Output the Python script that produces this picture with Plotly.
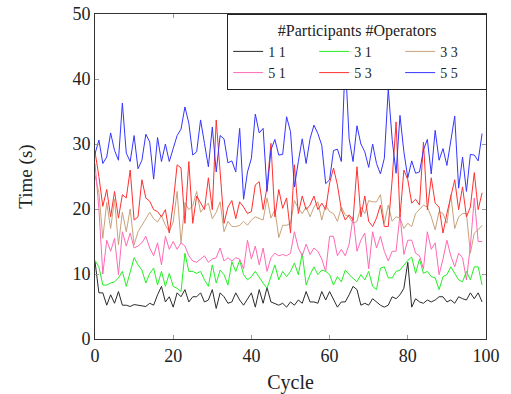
import plotly.graph_objects as go

# Cycle index (x axis)
cycles = list(range(100))

# Time per cycle in seconds, one list per (#participants, #operators) setup
t_1_1 = [11.9, 7.1, 7.1, 5.2, 6.8, 5.5, 7.3, 5.2, 5.2, 5.0, 5.3, 5.2, 5.2, 5.0, 5.5, 5.2, 6.8, 8.1, 5.7, 6.5,
         4.9, 7.1, 6.5, 7.6, 5.7, 6.5, 6.5, 7.1, 5.7, 6.0, 7.6, 4.7, 7.1, 6.5, 5.5, 5.7, 7.1, 6.0, 5.2, 6.2,
         7.1, 4.9, 7.6, 5.5, 7.9, 5.7, 5.5, 5.2, 5.5, 4.9, 5.7, 5.2, 6.0, 5.5, 7.3, 5.7, 5.7, 5.5, 7.3, 6.0,
         7.3, 6.0, 4.9, 5.7, 5.7, 6.8, 8.1, 7.6, 5.2, 5.5, 5.2, 6.2, 5.7, 5.2, 4.9, 5.2, 6.5, 6.2, 6.8, 7.8,
         11.8, 4.9, 6.2, 5.7, 5.5, 6.0, 5.7, 6.0, 6.5, 6.5, 5.7, 6.0, 5.5, 6.5, 6.2, 6.0, 7.1, 6.2, 7.1, 5.7]

t_3_1 = [12.1, 11.1, 8.3, 8.3, 8.6, 8.8, 9.4, 10.4, 8.1, 10.4, 12.5, 11.4, 10.6, 8.6, 10.1, 10.9, 8.3, 10.4, 8.1, 10.1,
         8.1, 7.8, 7.3, 13.2, 10.4, 10.4, 10.1, 10.4, 9.1, 8.1, 11.4, 8.6, 10.6, 9.9, 8.3, 11.9, 10.4, 12.1, 9.9, 9.1,
         9.6, 10.4, 9.4, 8.6, 7.8, 9.6, 11.4, 9.1, 10.4, 9.6, 10.4, 11.7, 9.9, 13.2, 8.3, 9.9, 11.1, 9.9, 10.6, 10.4,
         9.9, 8.3, 9.6, 8.8, 10.6, 9.9, 9.4, 8.8, 9.9, 9.1, 10.4, 8.1, 7.6, 10.9, 11.1, 9.4, 9.4, 10.4, 10.6, 11.4,
         12.1, 12.6, 10.1, 12.3, 10.1, 10.4, 9.6, 9.4, 7.6, 9.6, 9.9, 11.1, 10.1, 9.1, 8.8, 10.4, 9.1, 11.1, 11.1, 8.3]

t_3_3 = [25.2, 22.5, 15.5, 21.0, 17.0, 21.5, 14.5, 19.5, 16.5, 20.0, 14.5, 16.5, 17.5, 18.5, 19.5, 18.5, 18.0, 19.0, 17.5, 16.5,
         18.0, 22.7, 14.8, 21.0, 19.9, 20.5, 22.7, 19.5, 20.3, 20.9, 18.5, 19.5, 21.1, 16.5, 18.1, 17.3, 17.3, 17.5, 18.1, 17.5,
         18.3, 18.8, 18.6, 18.3, 21.7, 18.6, 19.9, 15.6, 17.5, 17.5, 17.8, 21.3, 20.1, 19.3, 20.3, 18.8, 20.3, 21.1, 18.3, 20.6,
         19.6, 19.3, 18.1, 20.3, 19.1, 18.8, 17.8, 18.1, 20.3, 19.3, 21.3, 21.1, 21.1, 22.2, 17.8, 20.6, 18.1, 18.8, 18.6, 17.0,
         17.8, 17.3, 19.3, 19.9, 20.6, 20.3, 18.8, 16.8, 19.6, 19.3, 17.8, 22.2, 17.0, 18.8, 19.3, 19.3, 13.2, 16.3, 16.8, 17.5]

t_5_1 = [27.0, 20.0, 10.0, 15.2, 13.5, 15.5, 9.9, 16.5, 14.3, 16.3, 14.0, 14.3, 14.8, 15.8, 14.0, 12.8, 14.8, 11.4, 15.8, 13.8,
         15.0, 13.8, 14.8, 14.3, 12.8, 12.0, 11.8, 12.3, 12.8, 11.8, 12.3, 12.5, 14.0, 12.0, 12.5, 12.0, 12.5, 12.3, 10.8, 15.2,
         12.3, 14.3, 11.4, 14.0, 10.4, 12.5, 13.2, 12.8, 13.0, 12.8, 13.2, 16.5, 14.0, 12.8, 14.6, 13.0, 14.0, 13.5, 12.3, 10.4,
         15.8, 15.8, 12.8, 13.8, 12.8, 14.6, 18.8, 13.5, 15.2, 16.3, 10.8, 16.5, 14.0, 15.8, 13.5, 12.0, 13.5, 13.5, 19.1, 13.0,
         15.2, 15.2, 13.2, 12.8, 10.8, 16.5, 13.8, 14.8, 9.9, 12.3, 15.2, 12.8, 11.1, 13.2, 12.5, 9.1, 14.3, 21.7, 15.0, 15.0]

t_5_3 = [28.8, 25.0, 20.4, 23.0, 18.8, 22.7, 18.6, 22.2, 21.7, 26.0, 18.3, 18.8, 24.5, 21.7, 21.2, 19.9, 19.6, 18.8, 19.9, 16.3,
         20.9, 26.8, 26.3, 17.8, 27.3, 17.8, 22.0, 20.9, 19.9, 24.8, 19.9, 33.7, 26.0, 17.8, 20.3, 21.3, 18.5, 21.1, 20.3, 19.3,
         19.6, 23.7, 24.2, 19.9, 23.4, 30.1, 18.8, 23.0, 20.1, 21.7, 16.3, 26.8, 19.3, 22.0, 19.9, 20.6, 22.0, 19.9, 20.9, 19.9,
         24.0, 26.3, 23.7, 19.9, 18.3, 19.1, 18.3, 26.5, 18.8, 22.0, 18.1, 17.3, 18.6, 20.6, 17.3, 17.3, 24.5, 33.4, 18.8, 26.0,
         24.5, 20.9, 21.5, 20.6, 30.3, 19.9, 24.8, 20.9, 20.3, 16.3, 19.3, 22.0, 24.5, 19.9, 23.4, 18.8, 20.3, 25.6, 19.9, 22.5]

t_5_5 = [28.5, 30.6, 27.0, 28.0, 31.7, 29.0, 27.5, 36.3, 28.6, 27.3, 31.3, 26.2, 27.5, 31.5, 30.3, 24.6, 31.0, 27.3, 30.0, 27.3,
         29.3, 31.3, 32.3, 35.7, 33.2, 28.3, 28.8, 33.7, 30.1, 26.5, 32.6, 25.7, 31.3, 30.8, 27.1, 27.4, 25.7, 32.4, 21.5, 25.7,
         27.8, 34.6, 31.7, 32.4, 22.7, 29.1, 30.7, 28.3, 28.4, 34.2, 31.9, 23.4, 27.3, 30.8, 27.0, 30.8, 32.9, 31.6, 29.8, 23.9,
         24.5, 29.0, 29.2, 27.3, 43.0, 30.8, 27.3, 32.8, 30.0, 28.8, 26.4, 30.0, 27.0, 25.4, 27.8, 38.5, 30.7, 25.5, 34.4, 28.8,
         24.8, 27.4, 25.5, 25.7, 29.1, 30.7, 25.4, 32.1, 27.5, 29.3, 26.7, 30.7, 34.3, 23.2, 28.0, 22.7, 28.4, 28.3, 27.4, 31.6]

series_names = ["1 1", "3 1", "3 3", "5 1", "5 3", "5 5"]
series_values = [t_1_1, t_3_1, t_3_3, t_5_1, t_5_3, t_5_5]
series_colors = ["#2b2b2b", "#22f022", "#c9a27a", "#ff69b4", "#ff3030", "#3535ff"]

FONT = "Liberation Serif"

fig = go.Figure()
for name, vals, col in zip(series_names, series_values, series_colors):
    fig.add_trace(go.Scatter(x=cycles, y=vals, mode="lines", name=name,
                             line=dict(color=col, width=1)))

axis_common = dict(
    showgrid=False, zeroline=False, showline=True, linecolor="#333333", linewidth=1,
    mirror="ticks", ticks="inside", ticklen=4, tickcolor="#999999", tickwidth=1,
    tickfont=dict(family=FONT, size=18, color="#222222"), automargin=False,
)

fig.update_layout(
    width=511, height=394,
    margin=dict(l=95, r=25, t=14, b=55),
    paper_bgcolor="white", plot_bgcolor="white",
    font=dict(family=FONT, size=17, color="#222222"),
    showlegend=True,
    legend=dict(
        orientation="h", x=1.003, xanchor="right", y=1.0, yanchor="top",
        entrywidth=41, entrywidthmode="pixels",
        bgcolor="white", bordercolor="#222222", borderwidth=1,
        title=dict(text="#Participants #Operators", side="top center",
                   font=dict(family=FONT, size=16)),
        font=dict(family=FONT, size=14),
        itemwidth=30,
    ),
    xaxis=dict(range=[0, 100], tickvals=[0, 20, 40, 60, 80, 100],
               title=dict(text="Cycle", font=dict(family=FONT, size=20), standoff=10),
               **axis_common),
    yaxis=dict(range=[0, 50], tickvals=[0, 10, 20, 30, 40, 50],
               title=dict(text="Time (s)", font=dict(family=FONT, size=19), standoff=34),
               **axis_common),
)

fig.write_html("out.html")
